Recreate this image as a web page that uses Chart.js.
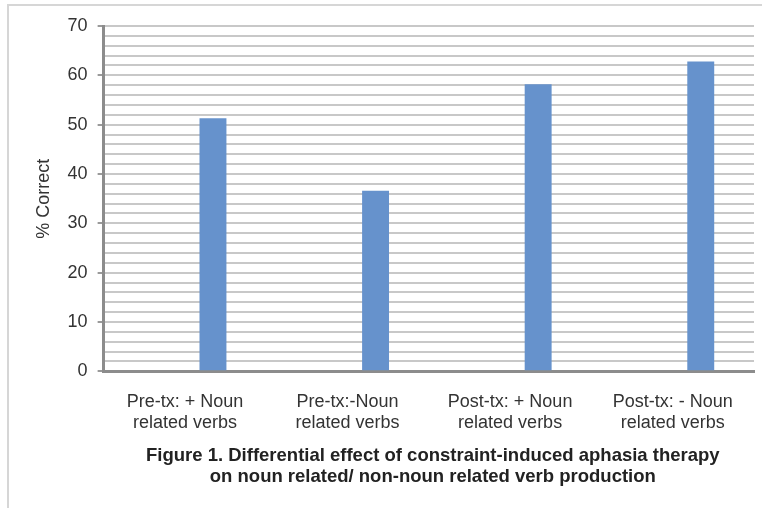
<!DOCTYPE html>
<html>
<head>
<meta charset="utf-8">
<script src="https://cdn.jsdelivr.net/npm/chart.js@4/dist/chart.umd.min.js"></script>
<style>
  html, body { margin: 0; padding: 0; background: #fff; }
  #wrap { position: relative; width: 762px; height: 508px; overflow: hidden; }
  #frame { position: absolute; left: 7px; top: 4px; width: 900px; height: 700px;
           border-left: 2px solid #d6d6d6; border-top: 2px solid #d6d6d6; }
  canvas { position: absolute; left: 0; top: 0; }
</style>
</head>
<body>
<div id="wrap">
  <div id="frame"></div>
  <canvas id="chart" width="762" height="508"></canvas>
</div>
<script>
const categories = [
  ['Pre-tx: + Noun', 'related verbs'],
  ['Pre-tx:-Noun', 'related verbs'],
  ['Post-tx: + Noun', 'related verbs'],
  ['Post-tx: - Noun', 'related verbs']
];
const correctPct = [51.3, 36.6, 58.2, 62.8];
const emptySeries = [null, null, null, null];
const yMax = 70;
const caption = [
  'Figure 1. Differential effect of constraint-induced aphasia therapy',
  'on noun related/ non-noun related verb production'
];

const font = 'Arial, "Liberation Sans", sans-serif';

// centre the bottom caption under the plot area rather than the whole canvas
const captionUnderPlot = {
  id: 'captionUnderPlot',
  afterLayout(chart) {
    const t = chart.titleBlock;
    if (!t) return;
    t.left = chart.chartArea.left + 4;
    t.right = chart.chartArea.right + 4;
    t.width = t.right - t.left;
  }
};

new Chart(document.getElementById('chart'), {
  type: 'bar',
  data: {
    labels: categories,
    datasets: [
      { data: emptySeries, backgroundColor: 'transparent' },
      { data: correctPct, backgroundColor: '#6692cc', borderWidth: 0 }
    ]
  },
  options: {
    responsive: false, animation: false,
    categoryPercentage: 0.69, barPercentage: 0.48,
    layout: { padding: { left: 24, right: 8, top: 26, bottom: 20 } },
    plugins: {
      legend: { display: false },
      tooltip: { enabled: false },
      title: {
        display: true, position: 'bottom', text: caption,
        color: '#222', font: { family: font, size: 18.5, weight: 'bold', lineHeight: 1.15 },
        padding: { top: 0, bottom: 0 }
      }
    },
    scales: {
      x: {
        grid: { display: false },
        border: { color: '#8c8c8c', width: 3 },
        ticks: { color: '#333', maxRotation: 0, padding: 12, font: { family: font, size: 18, lineHeight: 1.17 } }
      },
      y: {
        min: 0, max: yMax,
        border: { color: '#8c8c8c', width: 3 },
        grid: {
          color: '#c8c8c8', lineWidth: 2, tickLength: 6,
          tickColor: c => (c.tick && c.tick.value % 10 === 0) ? '#9a9a9a' : 'transparent'
        },
        ticks: {
          stepSize: 2, autoSkip: false, padding: 10, color: '#333',
          font: { family: font, size: 18 },
          callback: v => (v % 10 === 0 ? v : '')
        },
        title: {
          display: true, text: '% Correct', color: '#333',
          font: { family: font, size: 18 }, padding: { top: 9, bottom: 3 }
        }
      }
    }
  },
  plugins: [captionUnderPlot]
});
</script>
</body>
</html>
